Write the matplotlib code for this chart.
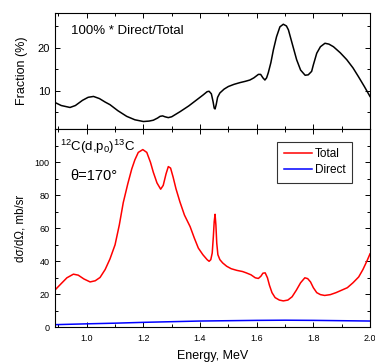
import matplotlib
matplotlib.use("Agg")
import matplotlib.pyplot as plt
from matplotlib.ticker import MultipleLocator

plt.rcParams['font.family'] = ['Liberation Sans', 'DejaVu Sans']

# ---- data ----
frac_E = [0.888, 0.91, 0.941, 0.96, 0.985, 1.005, 1.024, 1.045, 1.065, 1.082, 1.11, 1.141,
          1.17, 1.2, 1.22, 1.235, 1.25, 1.259, 1.268, 1.276, 1.288, 1.30, 1.33, 1.36, 1.388,
          1.41, 1.425, 1.432, 1.440, 1.446, 1.450, 1.453, 1.457, 1.462, 1.47, 1.485, 1.5,
          1.52, 1.541, 1.56, 1.576, 1.59, 1.606, 1.614, 1.622, 1.629, 1.635, 1.641, 1.65,
          1.659, 1.67, 1.682, 1.694, 1.705, 1.712, 1.725, 1.741, 1.755, 1.771, 1.782, 1.794,
          1.80, 1.812, 1.825, 1.841, 1.855, 1.871, 1.895, 1.918, 1.94, 1.959, 1.98, 2.0]
frac_val = [7.3, 6.6, 6.15, 6.6, 7.8, 8.5, 8.7, 8.2, 7.4, 6.8, 5.4, 4.1,
            3.3, 2.9, 3.0, 3.2, 3.7, 4.1, 4.2, 4.0, 3.8, 4.0, 5.2, 6.5, 7.9,
            9.0, 9.8, 9.9, 9.3, 7.5, 6.0, 5.8, 6.8, 8.5, 9.5, 10.4, 11.0,
            11.5, 11.9, 12.2, 12.5, 13.0, 13.8, 13.8, 13.0, 12.5, 13.0, 14.2, 16.5,
            19.5, 22.5, 24.8, 25.4, 25.0, 24.1, 21.0, 17.2, 14.8, 13.6, 13.7, 14.5,
            16.0, 18.7, 20.2, 21.0, 20.8, 20.2, 18.8, 17.2, 15.3, 13.3, 11.0, 8.7]

total_E = [0.888, 0.91, 0.93, 0.953, 0.97, 0.99, 1.012, 1.03, 1.047, 1.065, 1.082, 1.10,
           1.115, 1.129, 1.145, 1.159, 1.17, 1.182, 1.198, 1.212, 1.225, 1.235, 1.248,
           1.261, 1.27, 1.28, 1.288, 1.296, 1.305, 1.315, 1.329, 1.345, 1.365, 1.38, 1.394,
           1.41, 1.425, 1.432, 1.438, 1.443, 1.447, 1.450, 1.453, 1.456, 1.459, 1.463, 1.470,
           1.48, 1.494, 1.51, 1.53, 1.55, 1.563, 1.58, 1.595, 1.606, 1.615, 1.622, 1.63,
           1.638, 1.645, 1.654, 1.665, 1.68, 1.694, 1.71, 1.725, 1.74, 1.755, 1.77, 1.78,
           1.79, 1.80, 1.812, 1.825, 1.84, 1.86, 1.88, 1.90, 1.92, 1.94, 1.96, 1.975, 1.99, 2.0]
total_val = [22.6, 26.5, 30.0, 32.2, 31.6, 29.3, 27.5, 28.2, 30.2, 35.0, 41.4, 50.0,
             62.0, 75.6, 87.0, 96.0, 101.5, 106.0, 107.7, 106.0, 100.0, 94.0, 87.5,
             83.7, 86.0, 93.0, 97.4, 96.5, 91.0, 84.0, 76.0, 68.0, 61.0, 54.0, 48.0,
             44.0, 41.0, 40.0, 41.0, 45.0, 55.0, 64.0, 68.5, 62.0, 51.0, 44.0, 41.0,
             39.0, 37.0, 35.5, 34.5, 33.8, 33.0, 31.8, 30.0, 29.6, 31.0, 32.8, 33.0,
             30.0, 25.5, 21.0, 18.0, 16.5, 16.0, 16.5, 18.5, 22.5, 27.0, 30.0, 29.5,
             27.5, 24.0, 21.0, 19.8, 19.3, 19.8, 21.0, 22.5, 24.0, 27.0, 30.5, 35.0, 40.5, 44.5]

direct_E = [0.888, 1.0, 1.1, 1.2, 1.3, 1.4, 1.5, 1.6, 1.7, 1.8, 1.9, 2.0]
direct_val = [1.6, 2.1, 2.5, 3.0, 3.4, 3.8, 4.0, 4.2, 4.3, 4.2, 4.0, 3.8]

fig = plt.figure(figsize=(3.75, 3.62), dpi=100)
L, R = 55 / 375, 370 / 375
H = 362
ax1 = fig.add_axes([L, 1 - 129.3 / H, R - L, (129.3 - 13) / H])
ax2 = fig.add_axes([L, 1 - 327.3 / H, R - L, (327.3 - 129.3) / H])

for ax in (ax1, ax2):
    ax.set_xlim(0.888, 2.0)
    ax.xaxis.set_major_locator(MultipleLocator(0.2))
    ax.xaxis.set_minor_locator(MultipleLocator(0.1))
    ax.tick_params(which='both', direction='in', top=True, right=True, width=0.7)
    ax.tick_params(which='major', length=3.5)
    ax.tick_params(which='minor', length=2)
    for s in ax.spines.values():
        s.set_linewidth(0.8)

ax1.plot(frac_E, frac_val, color='black', lw=1.1)
ax1.set_ylim(1.1, 28)
ax1.yaxis.set_major_locator(MultipleLocator(10))
ax1.yaxis.set_minor_locator(MultipleLocator(5))
ax1.tick_params(labelbottom=False, labelsize=8, pad=3.5)
ax1.set_ylabel('Fraction (%)', fontsize=9, labelpad=7)
fig.text(71 / 375, 1 - 31.5 / H, '100% * Direct/Total', fontsize=9.5, va='center', ha='left')

ax2.plot(total_E, total_val, color='red', lw=1.1, label='Total')
ax2.plot(direct_E, direct_val, color='blue', lw=1.1, label='Direct')
ax2.set_ylim(0, 120)
ax2.yaxis.set_major_locator(MultipleLocator(20))
ax2.yaxis.set_minor_locator(MultipleLocator(10))
ax2.set_yticks([0, 20, 40, 60, 80, 100])
ax2.tick_params(axis='y', labelsize=6.5, pad=4)
ax2.tick_params(axis='x', labelsize=6.5, pad=5)
ax2.set_xlabel('Energy, MeV', fontsize=9, labelpad=5)
ax2.set_ylabel('dσ/dΩ, mb/sr', fontsize=8.3, labelpad=6)

fig.text(60 / 375, 1 - 146.7 / H,
         r'$^{\mathregular{12}}$C(d,p$_{\mathregular{0}}$)$^{\mathregular{13}}$C',
         fontsize=9.5, va='center', ha='left')
fig.text(70 / 375, 1 - 176.5 / H, 'θ=170°', fontsize=10.5, va='center', ha='left')

leg = ax2.legend(loc='upper right', bbox_to_anchor=((352 - 55) / 315, (327.3 - 142) / 198),
                 fontsize=8.5, frameon=True, fancybox=False, edgecolor='black',
                 handlelength=2.4, handletextpad=0.25, borderpad=0.55, labelspacing=0.3,
                 borderaxespad=0)
leg.get_frame().set_linewidth(0.8)

fig.savefig('out.png', dpi=100)
